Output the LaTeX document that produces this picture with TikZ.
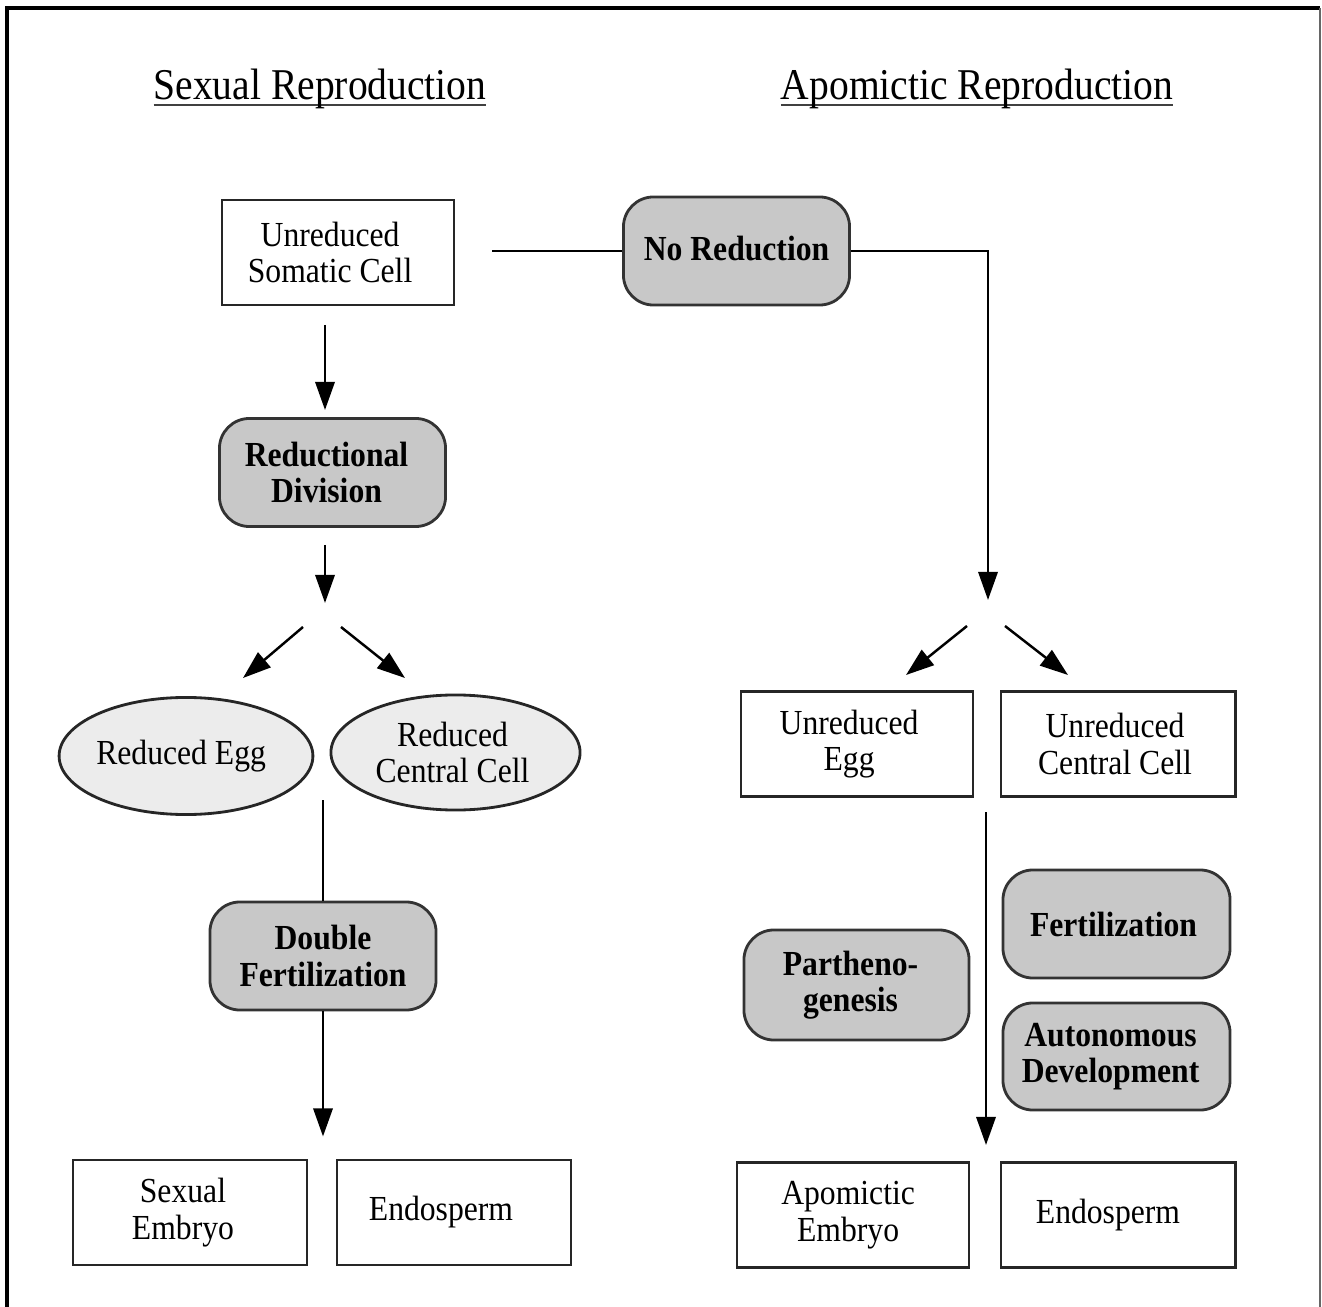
\documentclass[tikz,border=0pt]{standalone}
\usepackage{fontspec}
\setmainfont{Liberation Serif}[FakeStretch=0.9]
\usetikzlibrary{arrows.meta,shapes.geometric,calc}
\newsavebox\myulbox
\newcommand\myul[1]{\sbox\myulbox{#1}\rlap{\color{black!75}\rule[-1.8pt]{\wd\myulbox}{0.75pt}}\usebox\myulbox}
\newcommand\sh[1]{\hspace*{#1}}
\definecolor{boxgray}{HTML}{C8C8C8}
\definecolor{ellgray}{HTML}{ECECEC}
\begin{document}
\begin{tikzpicture}[x=0.01cm,y=-0.01cm,
  plain/.style={draw=black!85, line width=0.8pt, rectangle, minimum width=2.32cm, minimum height=1.05cm, inner sep=1pt, align=center, font=\fontsize{10}{10.4}\selectfont},
  proc/.style={draw=black!80, fill=boxgray, line width=0.8pt, rounded corners=0.3cm, minimum width=2.26cm, minimum height=1.08cm, inner sep=1pt, align=center, font=\bfseries\fontsize{10}{10.4}\selectfont},
  cell/.style={ellipse, draw=black!85, fill=ellgray, line width=0.8pt, minimum width=2.48cm, minimum height=1.17cm, inner sep=0pt, align=center, font=\fontsize{10}{10.4}\selectfont},
  arr/.style={-{Triangle[length=8pt,width=5.5pt]}, line width=0.7pt},
  con/.style={line width=0.7pt},
  title/.style={font=\fontsize{12.5}{14}\selectfont, anchor=base, inner sep=0pt}]
\useasboundingbox (0,0) rectangle (1322,1307);
% frame
\draw[line width=1pt] (7,1307) -- (7,8) -- (1320,8);
\draw[line width=0.8pt, black!60] (1320,8) -- (1320,1307);
% titles
\node[title] (t1) at (320,100) {\myul{Sexual Reproduction}};
\node[title] (t2) at (977,100) {\myul{Apomictic Reproduction}};
% nodes
\node[plain] (usc) at (338,252.5) {Unreduced\sh{4.5pt}\\Somatic Cell\sh{4.5pt}};
\node[proc] (nored) at (736.5,251) {\raisebox{1.7pt}{No Reduction}};
\node[proc] (rd) at (332.5,472.5) {Reductional\sh{3.4pt}\\Division\sh{3.4pt}};
\node[cell] (re) at (186,756) {Reduced Egg\sh{2.8pt}};
\node[cell, minimum width=2.49cm, minimum height=1.15cm] (rcc) at (455.5,752.5) {Reduced\sh{1.7pt}\\Central Cell\sh{1.7pt}};
\node[proc] (df) at (323,956) {Double\\Fertilization};
\node[plain, minimum width=2.34cm] (se) at (190,1212.5) {Sexual\sh{4pt}\\Embryo\sh{4pt}};
\node[plain, minimum width=2.34cm] (endl) at (454,1212.5) {Endosperm\sh{7.4pt}};
\node[plain] (ue) at (857,744) {Unreduced\sh{4.5pt}\\Egg\sh{4.5pt}};
\node[plain, minimum width=2.34cm] (ucc) at (1118,744) {Unreduced\sh{1.7pt}\\Central Cell\sh{1.7pt}};
\node[proc, minimum width=2.27cm] (fert) at (1116.5,924) {Fertilization\sh{1.7pt}};
\node[proc, minimum width=2.27cm, minimum height=1.07cm] (aut) at (1116.5,1056.5) {Autonomous\sh{3.4pt}\\Development\sh{3.4pt}};
\node[proc, minimum width=2.25cm, minimum height=1.10cm] (par) at (856.5,985) {Partheno-\sh{3.4pt}\\genesis\sh{3.4pt}};
\node[plain] (ae) at (853,1215) {Apomictic\sh{2.8pt}\\Embryo\sh{2.8pt}};
\node[plain, minimum width=2.34cm] (endr) at (1118,1215) {Endosperm\sh{5.7pt}};
% free connector ends
\coordinate (a1s) at (325,325);
\coordinate (a1e) at (325,410);
\coordinate (a2s) at (325,545);
\coordinate (a2e) at (325,603);
\coordinate (dls) at (303,627);
\coordinate (dle) at (243,678);
\coordinate (drs) at (341,627);
\coordinate (dre) at (405,678);
\coordinate (jl) at (323,800);
\coordinate (forkR) at (988,600);
\coordinate (rls) at (967,626);
\coordinate (rle) at (906,675);
\coordinate (rrs) at (1005,626);
\coordinate (rre) at (1068,675);
\coordinate (ls) at (986,812);
\coordinate (le) at (986,1145);
\coordinate (us) at (492,251);
% connectors
\draw[arr] (a1s) -- (a1e);
\draw[arr] (a2s) -- (a2e);
\draw[arr] (dls) -- (dle);
\draw[arr] (drs) -- (dre);
\draw[con] (jl) -- (df.north);
\draw[arr] (df.south) -- ++(0,125);
\draw[con] (us) -- (nored.west);
\draw[arr] (nored.east) -| (forkR);
\draw[arr] (rls) -- (rle);
\draw[arr] (rrs) -- (rre);
\draw[arr] (ls) -- (le);
\end{tikzpicture}
\end{document}
